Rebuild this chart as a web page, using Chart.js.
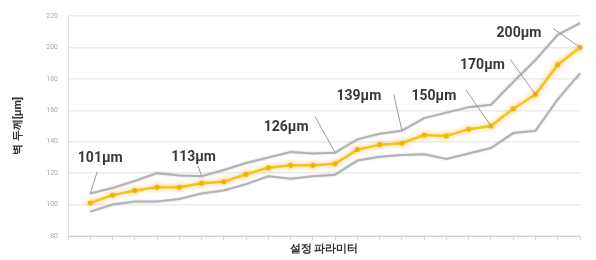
<!DOCTYPE html>
<html><head><meta charset="utf-8">
<script src="https://cdn.jsdelivr.net/npm/chart.js@4"></script>
<style>html,body{margin:0;padding:0;background:#fff;overflow:hidden}</style>
</head><body><canvas id="c" width="596" height="260"></canvas>
<script>
const categories = ['', '1','2','3','4','5','6','7','8','9','10','11','12','13','14','15','16','17','18','19','20','21','22','23'];
const upperValues = [null,107,110.5,115,120,118.5,118,122,126.5,130,133.5,132.5,133,141.5,145,147,155,158.5,162,163.5,178,192,208,215.5];
const meanValues  = [null,101,106,109,111,111,113.5,114.5,119.3,123.5,125,125,126,135,138,139,144.3,143.7,148,150,161,170,189,200];
const lowerValues = [null,95.5,100,102,102,103.5,107,109,113,118,116.5,118,119,128,130.5,131.5,132,129,132.5,136,145.5,147,167,183.5];
const yTicks = [80,100,120,140,160,180,200,220];
const calloutText = ['101μm','113μm','126μm','139μm','150μm','170μm','200μm'];
const calloutIndex = [1,6,12,15,19,21,23];
const calloutSeries = ['upper','upper','upper','upper','mean','mean','mean'];
// layout offsets (pixels) of text centre and leader start relative to anchor point
const calloutLayout = [[10,-35,7,-22],[-8,-19,-4,-12],[-49,-25,-20,-36],[-43,-34,-8,-36],[-57,-30,-25,-36],[-53,-29,-25,-35],[-61,-14,-27,-19]];

const seriesMap = {upper:0, mean:1, lower:2};
const glow = {
  id:'glow',
  beforeDatasetDraw(chart, args){
    const ctx = chart.ctx;
    ctx.save();
    if (args.index === 1) { ctx.shadowColor = 'rgba(245,170,40,0.7)'; ctx.shadowBlur = 5; }
    else { ctx.shadowColor = 'rgba(150,150,160,0.5)'; ctx.shadowBlur = 2; }
  },
  afterDatasetDraw(chart){ chart.ctx.restore(); }
};
const callouts = {
  id:'callouts',
  afterDatasetsDraw(chart){
    const ctx = chart.ctx;
    ctx.save();
    calloutText.forEach((t,i)=>{
      const meta = chart.getDatasetMeta(seriesMap[calloutSeries[i]]);
      const pt = meta.data[calloutIndex[i]];
      const [tx,ty,lx,ly] = calloutLayout[i];
      ctx.strokeStyle = '#9a9a9a'; ctx.lineWidth = 1;
      ctx.beginPath(); ctx.moveTo(pt.x+lx, pt.y+ly); ctx.lineTo(pt.x, pt.y); ctx.stroke();
      ctx.font = 'bold 14px Roboto';
      const w = ctx.measureText(t).width;
      ctx.fillStyle = 'rgba(255,255,255,0.9)';
      ctx.fillRect(pt.x+tx-w/2-2, pt.y+ty-8, w+4, 16);
      ctx.fillStyle = '#383838';
      ctx.textAlign='center'; ctx.textBaseline='middle';
      ctx.fillText(t, pt.x+tx, pt.y+ty);
    });
    ctx.restore();
  }
};

new Chart(document.getElementById('c'), {
  type:'line',
  data:{
    labels:categories,
    datasets:[
      {data:upperValues, borderColor:'#b3b3b5', borderWidth:2, pointRadius:0, tension:0},
      {data:meanValues, borderColor:'#f5c518', borderWidth:2.5, pointRadius:2.5, pointBackgroundColor:'#f0b400', pointBorderWidth:0, tension:0},
      {data:lowerValues, borderColor:'#b3b3b5', borderWidth:2, pointRadius:0, tension:0}
    ]
  },
  options:{
    responsive:false, animation:false, devicePixelRatio:1,
    layout:{padding:{left:0,right:16,top:16,bottom:0}},
    plugins:{legend:{display:false}, tooltip:{enabled:false}},
    scales:{
      x:{
        offset:false,
        grid:{drawOnChartArea:false, drawTicks:true, tickLength:4, color:'#d8d8d8'},
        border:{color:'#d0d0d0'},
        ticks:{display:false},
        title:{display:true, text:'설정 파라미터', font:{family:'Roboto', size:11, weight:'bold'}, color:'#333', padding:{top:0,bottom:4}},
        afterFit(s){ s.height = 24; }
      },
      y:{
        min:80, max:220,
        afterBuildTicks(s){ s.ticks = yTicks.map(v=>({value:v})); },
        grid:{color:'#ececec', lineWidth:1.5, drawTicks:false},
        border:{color:'#e0e0e0'},
        ticks:{font:{family:'Roboto', size:7}, color:'#a8a8a8', padding:10},
        title:{display:true, text:'벽 두께[μm]', font:{family:'Roboto', size:11, weight:'bold'}, color:'#333', padding:{top:12,bottom:0}},
        afterFit(s){ s.width = 68; }
      }
    }
  },
  plugins:[glow, callouts]
});
</script>
</body></html>
